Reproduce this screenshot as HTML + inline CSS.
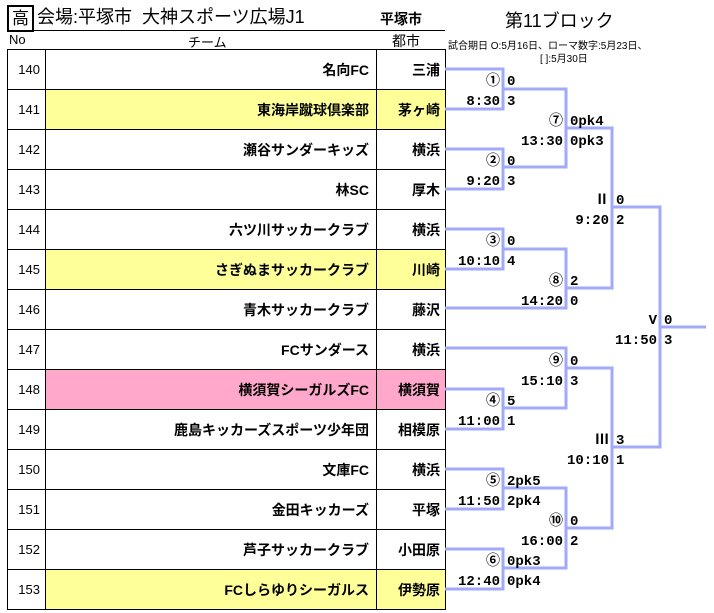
<!DOCTYPE html>
<html><head><meta charset="utf-8"><style>
body{margin:0;background:#fff;width:714px;height:613px;overflow:hidden;position:relative;font-family:"Liberation Sans","Noto Sans CJK JP",sans-serif;}
.a{position:absolute;white-space:nowrap;}
table{position:absolute;left:7px;top:49px;border-collapse:collapse;table-layout:fixed;width:438px;}
td{border:1px solid #000;height:39px;padding:0;font-size:14px;overflow:hidden;white-space:nowrap}
td.n{text-align:right;font-size:13px;padding-right:5px}
td.t{text-align:right;font-weight:bold;padding-right:7px}
td.c{text-align:right;font-weight:bold;padding-right:5px}
.y td.t,.y td.c{background:#ffff99}
.p td.t,.p td.c{background:#ffa8cc}
</style></head><body>
<div class="a" style="left:7px;top:5px;width:23px;height:23px;border:2px solid #000;font-size:17px;text-align:center;line-height:23px">高</div>
<div class="a" style="left:37px;top:5px;font-size:18px;line-height:25px">会場:平塚市&nbsp; 大神スポーツ広場J1</div>
<div class="a" style="left:380px;top:9px;font-size:14px;font-weight:bold">平塚市</div>
<div class="a" style="left:7px;top:30px;width:438px;border-top:1px solid #000"></div>
<div class="a" style="left:505px;top:7px;font-size:18px">第11ブロック</div>
<div class="a" style="left:9px;top:32px;font-size:13px">No</div>
<div class="a" style="left:188px;top:32px;font-size:13px">チーム</div>
<div class="a" style="left:392px;top:31px;font-size:14px">都市</div>
<div class="a" style="left:448px;top:37px;font-size:10px">試合期日 O:5月16日、ローマ数字:5月23日、</div>
<div class="a" style="left:540px;top:50px;font-size:10px">[ ]:5月30日</div>
<table>
<colgroup><col style="width:38px"><col style="width:331px"><col style="width:69px"></colgroup>
<tr><td class="n">140</td><td class="t">名向FC</td><td class="c">三浦</td></tr>
<tr class="y"><td class="n">141</td><td class="t">東海岸蹴球倶楽部</td><td class="c">茅ヶ崎</td></tr>
<tr><td class="n">142</td><td class="t">瀬谷サンダーキッズ</td><td class="c">横浜</td></tr>
<tr><td class="n">143</td><td class="t">林SC</td><td class="c">厚木</td></tr>
<tr><td class="n">144</td><td class="t">六ツ川サッカークラブ</td><td class="c">横浜</td></tr>
<tr class="y"><td class="n">145</td><td class="t">さぎぬまサッカークラブ</td><td class="c">川崎</td></tr>
<tr><td class="n">146</td><td class="t">青木サッカークラブ</td><td class="c">藤沢</td></tr>
<tr><td class="n">147</td><td class="t">FCサンダース</td><td class="c">横浜</td></tr>
<tr class="p"><td class="n">148</td><td class="t">横須賀シーガルズFC</td><td class="c">横須賀</td></tr>
<tr><td class="n">149</td><td class="t">鹿島キッカーズスポーツ少年団</td><td class="c">相模原</td></tr>
<tr><td class="n">150</td><td class="t">文庫FC</td><td class="c">横浜</td></tr>
<tr><td class="n">151</td><td class="t">金田キッカーズ</td><td class="c">平塚</td></tr>
<tr><td class="n">152</td><td class="t">芦子サッカークラブ</td><td class="c">小田原</td></tr>
<tr class="y"><td class="n">153</td><td class="t">FCしらゆりシーガルス</td><td class="c">伊勢原</td></tr>
</table>
<svg class="a" style="left:0;top:0" width="714" height="613">
<g fill="none" stroke="#a0aaf8" stroke-width="3">
<polyline points="445,69 503,69 503,109 445,109"/>
<polyline points="445,149 503,149 503,189 445,189"/>
<polyline points="445,229 503,229 503,269 445,269"/>
<polyline points="445,389 503,389 503,429 445,429"/>
<polyline points="445,469 503,469 503,509 445,509"/>
<polyline points="445,549 503,549 503,589 445,589"/>
<polyline points="503,89 566,89 566,167 503,167"/>
<polyline points="503,249 566,249 566,308 445,308"/>
<polyline points="445,348 566,348 566,408 503,408"/>
<polyline points="503,488 566,488 566,568 503,568"/>
<polyline points="566,128 612,128 612,288 566,288"/>
<polyline points="566,368 612,368 612,528 566,528"/>
<polyline points="612,207 660,207 660,447 612,447"/>
<line x1="660" y1="327" x2="706" y2="327"/>
</g>
<g font-family="Liberation Mono,Noto Sans CJK JP,monospace" font-size="14" font-weight="bold" fill="#000">
<g text-anchor="end">
<text x="500" y="85">①</text><text x="500" y="105">8:30</text>
<text x="500" y="165">②</text><text x="500" y="185">9:20</text>
<text x="500" y="245">③</text><text x="500" y="265">10:10</text>
<text x="500" y="405">④</text><text x="500" y="425">11:00</text>
<text x="500" y="485">⑤</text><text x="500" y="505">11:50</text>
<text x="500" y="565">⑥</text><text x="500" y="585">12:40</text>
<text x="563" y="125">⑦</text><text x="563" y="145">13:30</text>
<text x="563" y="285">⑧</text><text x="563" y="305">14:20</text>
<text x="563" y="365">⑨</text><text x="563" y="385">15:10</text>
<text x="563" y="525">⑩</text><text x="563" y="545">16:00</text>
<text x="609" y="204">Ⅱ</text><text x="609" y="224">9:20</text>
<text x="609" y="444">Ⅲ</text><text x="609" y="464">10:10</text>
<text x="657" y="324">V</text><text x="657" y="344">11:50</text>
</g>
<text x="507" y="85">0</text><text x="507" y="105">3</text>
<text x="507" y="165">0</text><text x="507" y="185">3</text>
<text x="507" y="245">0</text><text x="507" y="265">4</text>
<text x="507" y="405">5</text><text x="507" y="425">1</text>
<text x="507" y="485">2pk5</text><text x="507" y="505">2pk4</text>
<text x="507" y="565">0pk3</text><text x="507" y="585">0pk4</text>
<text x="570" y="125">0pk4</text><text x="570" y="145">0pk3</text>
<text x="570" y="285">2</text><text x="570" y="305">0</text>
<text x="570" y="365">0</text><text x="570" y="385">3</text>
<text x="570" y="525">0</text><text x="570" y="545">2</text>
<text x="616" y="204">0</text><text x="616" y="224">2</text>
<text x="616" y="444">3</text><text x="616" y="464">1</text>
<text x="664" y="324">0</text><text x="664" y="344">3</text>
</g>
</svg>
</body></html>
